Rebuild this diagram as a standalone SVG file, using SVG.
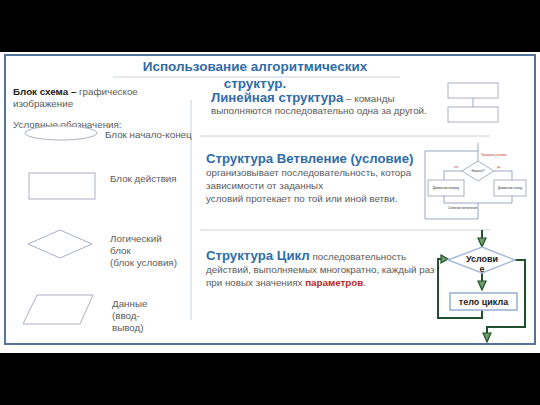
<svg xmlns="http://www.w3.org/2000/svg" width="540" height="405" viewBox="0 0 540 405">
<style>
text{font-family:"Liberation Sans",Arial,sans-serif;}
.body{font-size:9.8px;fill:#5a5a5a;}
.h{font-size:13.2px;font-weight:bold;fill:#2f6ca8;}
.shape{fill:#fff;stroke:#a9b0c2;stroke-width:1;}
.thin{stroke:#c9d2de;stroke-width:1;fill:none;}
.bl{stroke:#7f93b0;stroke-width:0.8;fill:none;}
.tiny{font-size:3.2px;fill:#333;}
.red{font-size:3px;fill:#c0392b;}
.g{stroke:#1f4f2c;stroke-width:2;fill:none;}
.ah{fill:#6f9c6a;stroke:#1f4f2c;stroke-width:1.2;}
</style>
<rect x="0" y="0" width="540" height="405" fill="#000"/>
<rect x="0" y="52" width="540" height="301" fill="#fff"/>
<rect x="5" y="55" width="530" height="289" fill="none" stroke="#56749a" stroke-width="2"/>

<g id="title">
<text x="255" y="71" text-anchor="middle" font-size="13.5" font-weight="bold" fill="#2f6ca8">Использование алгоритмических</text>
<text x="255" y="88" text-anchor="middle" font-size="13.5" font-weight="bold" fill="#2f6ca8">структур.</text>
</g>

<g id="rules">
<line class="thin" x1="113" y1="77" x2="400" y2="77"/>
<line class="thin" x1="191" y1="100" x2="191" y2="320"/>
<line class="thin" x1="200" y1="136" x2="490" y2="136"/>
<line class="thin" x1="200" y1="230" x2="490" y2="230"/>
</g>

<g id="intro">
<text x="13" y="95" class="body"><tspan font-weight="bold" fill="#222">Блок схема –</tspan> графическое</text>
<text x="13" y="107" class="body">изображение</text>
<text x="13" y="128" class="body">Условные обозначения:</text>
</g>

<g id="legend-terminal">
<ellipse class="shape" cx="61" cy="133" rx="36" ry="7" fill="none"/>
<text x="105" y="138" class="body">Блок начало-конец</text>
</g>
<g id="legend-action">
<rect class="shape" x="29" y="173" width="66" height="26"/>
<text x="110" y="182" class="body">Блок действия</text>
</g>
<g id="legend-decision">
<polygon class="shape" points="28,244 60,230 92,244 60,258"/>
<text x="110" y="242" class="body">Логический</text>
<text x="110" y="254" class="body">блок</text>
<text x="110" y="266" class="body"> (блок условия)</text>
</g>
<g id="legend-data">
<polygon class="shape" points="37,295 93,295 80,324 23,324"/>
<text x="112" y="307" class="body">Данные</text>
<text x="112" y="319" class="body">(ввод-</text>
<text x="112" y="331" class="body">вывод)</text>
</g>

<g id="linear">
<text x="211" y="102"><tspan class="h">Линейная структура</tspan><tspan class="body" font-size="8.7"> – команды</tspan></text>
<text x="211" y="114" class="body">выполняются последовательно одна за другой.</text>
<rect class="shape" x="448" y="83" width="50" height="15"/>
<rect class="shape" x="448" y="107" width="50" height="15"/>
<line class="bl" x1="473" y1="98" x2="473" y2="107"/>
</g>

<g id="branch">
<text x="206" y="163" class="h">Структура Ветвление (условие)</text>
<text x="206" y="176" class="body">организовывает последовательность, котора</text>
<text x="206" y="189" class="body">зависимости от заданных</text>
<text x="206" y="202" class="body"> условий протекает по той или иной ветви.</text>
<g id="branch-diagram">
<polyline class="bl" points="478,143 478,161"/>
<polyline class="bl" points="478,151 425,151 425,219 478,219 478,203"/>
<polygon class="shape" points="462,171 478,161 494,171 478,181"/>
<text x="478" y="172" class="tiny" text-anchor="middle">Нажато?</text>
<text x="481" y="156" class="red">Проверка условия</text>
<polyline class="bl" points="462,171 444,171 444,180"/>
<polyline class="bl" points="494,171 512,171 512,180"/>
<text x="454" y="168" class="red">нет</text>
<text x="497" y="168" class="red">да</text>
<rect class="shape" x="428" y="180" width="36" height="16"/>
<rect class="shape" x="494" y="180" width="32" height="16"/>
<text x="446" y="189" class="tiny" text-anchor="middle">Движение вперёд</text>
<text x="510" y="189" class="tiny" text-anchor="middle">Движение назад</text>
<polyline class="bl" points="444,196 444,203 512,203 512,196"/>
<text x="448" y="209" class="tiny">Слияние ветвления</text>
</g>
</g>

<g id="cycle">
<text x="206" y="260"><tspan class="h">Структура Цикл</tspan><tspan class="body"> последовательность</tspan></text>
<text x="206" y="273" class="body">действий, выполняемых многократно, каждый раз</text>
<text x="206" y="286" class="body">при новых значениях <tspan font-weight="bold" fill="#b8282e">параметров</tspan>.</text>
</g>

<g id="connectors">
<line class="g" x1="482" y1="230" x2="482" y2="240"/>
<polyline class="g" points="482,310 482,318 438,318 438,259 443,259"/>
<polyline class="g" points="515,260 525,260 525,327 487,327 487,335"/>
<line class="g" x1="482" y1="273" x2="482" y2="282"/>
<polygon class="ah" points="478,238 486,238 482,247"/>
<polygon class="ah" points="478,281 486,281 482,290"/>
<polygon class="ah" points="441,255 441,263 448,259"/>
<polygon class="ah" points="483,333 491,333 487,342"/>
</g>

<g id="cycle-condition">
<polygon points="448,260 482,247 515,260 482,273" fill="#fff" stroke="#a7bcd6" stroke-width="1.5"/>
<text x="482" y="262" text-anchor="middle" font-size="9" font-weight="bold" fill="#222">Услови</text>
<text x="482" y="272" text-anchor="middle" font-size="9" font-weight="bold" fill="#222">е</text>
</g>
<g id="cycle-body">
<rect x="450" y="293" width="67" height="17" fill="#fff" stroke="#a7bcd6" stroke-width="1.8"/>
<text x="483.5" y="305" text-anchor="middle" font-size="9" font-weight="bold" fill="#222">тело цикла</text>
</g>
</svg>
